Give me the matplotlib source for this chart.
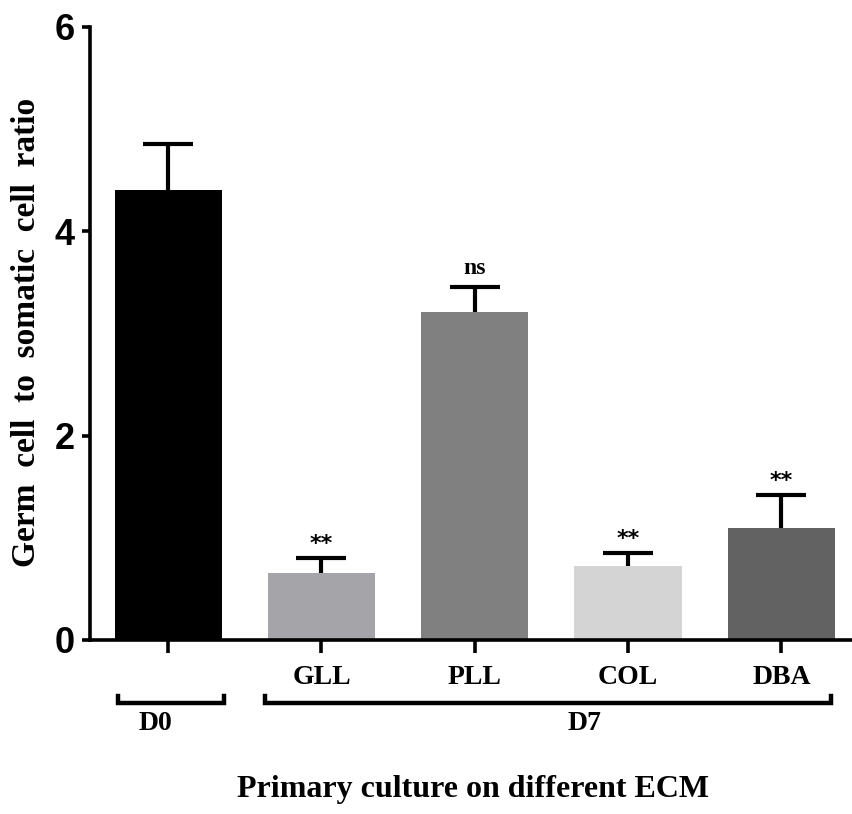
import numpy as np
import matplotlib.pyplot as plt

# data
groups = ['D0', 'GLL', 'PLL', 'COL', 'DBA']
tick_labels = ['', 'GLL', 'PLL', 'COL', 'DBA']
means = [4.40, 0.66, 3.21, 0.72, 1.10]
sem = [0.45, 0.14, 0.24, 0.13, 0.32]
signif = ['', '**', 'ns', '**', '**']
colors = ['#000000', '#a5a4a9', '#808080', '#d4d4d4', '#626262']

serif = ['Liberation Serif', 'DejaVu Serif']
narrow = ['Liberation Sans Narrow', 'Liberation Sans', 'DejaVu Sans']

fig = plt.figure(figsize=(8.52, 8.14), dpi=100)
ax = fig.add_axes([0.1056, 0.2138, 0.8944, 0.7531])

x = np.arange(len(groups))
ax.bar(x, means, width=0.70, color=colors, zorder=2)
_, caps, _ = ax.errorbar(x, means, yerr=[np.zeros(len(sem)), sem], fmt='none',
                         ecolor='k', elinewidth=3, capsize=18, capthick=3, zorder=3)
caps[0].set_visible(False)   # only upper caps, like GraphPad

for xi, m, e, s in zip(x, means, sem, signif):
    if not s:
        continue
    if s == 'ns':
        ax.text(xi, m + e + 0.08, s, ha='center', va='bottom', fontsize=17,
                fontweight='bold', family=serif)
    else:
        ax.text(xi, m + e + 0.04, s, ha='center', va='bottom', fontsize=16,
                fontweight='bold', family=['DejaVu Sans'])

ax.set_xlim(-0.51, 4.46)
ax.set_ylim(0, 6)
ax.set_yticks([0, 2, 4, 6])
ax.set_yticklabels(['0', '2', '4', '6'], fontsize=26, fontweight='bold', family=narrow)
ax.set_xticks(x)
ax.set_xticklabels(tick_labels, fontsize=20, fontweight='bold', family=serif)

for sp in ['top', 'right']:
    ax.spines[sp].set_visible(False)
for sp in ['left', 'bottom']:
    ax.spines[sp].set_linewidth(2.6)
ax.tick_params(axis='y', length=6, width=2.6, pad=5)
ax.tick_params(axis='x', length=9, width=2.6, pad=9)

# group brackets below the axis
tr = ax.get_xaxis_transform()
for x0, x1 in [(-0.326, 0.365), (0.632, 4.326)]:
    ax.plot([x0, x0, x1, x1], [-0.092, -0.103, -0.103, -0.092], color='k',
            lw=3.2, transform=tr, clip_on=False, solid_joinstyle='miter')
ax.text(-0.085, -0.116, 'D0', transform=tr, ha='center', va='top', fontsize=20,
        fontweight='bold', family=serif)
ax.text(2.718, -0.116, 'D7', transform=tr, ha='center', va='top', fontsize=20,
        fontweight='bold', family=serif)

fig.text(473 / 852, 1 - 790 / 814, 'Primary culture on different ECM', ha='center',
         va='center', fontsize=23, fontweight='bold', family=serif)
fig.text(27 / 852, 1 - 332 / 814, 'Germ  cell  to  somatic  cell  ratio', ha='center',
         va='center', rotation=90, fontsize=24, fontweight='bold', family=serif)

fig.savefig('out.png', dpi=100)
